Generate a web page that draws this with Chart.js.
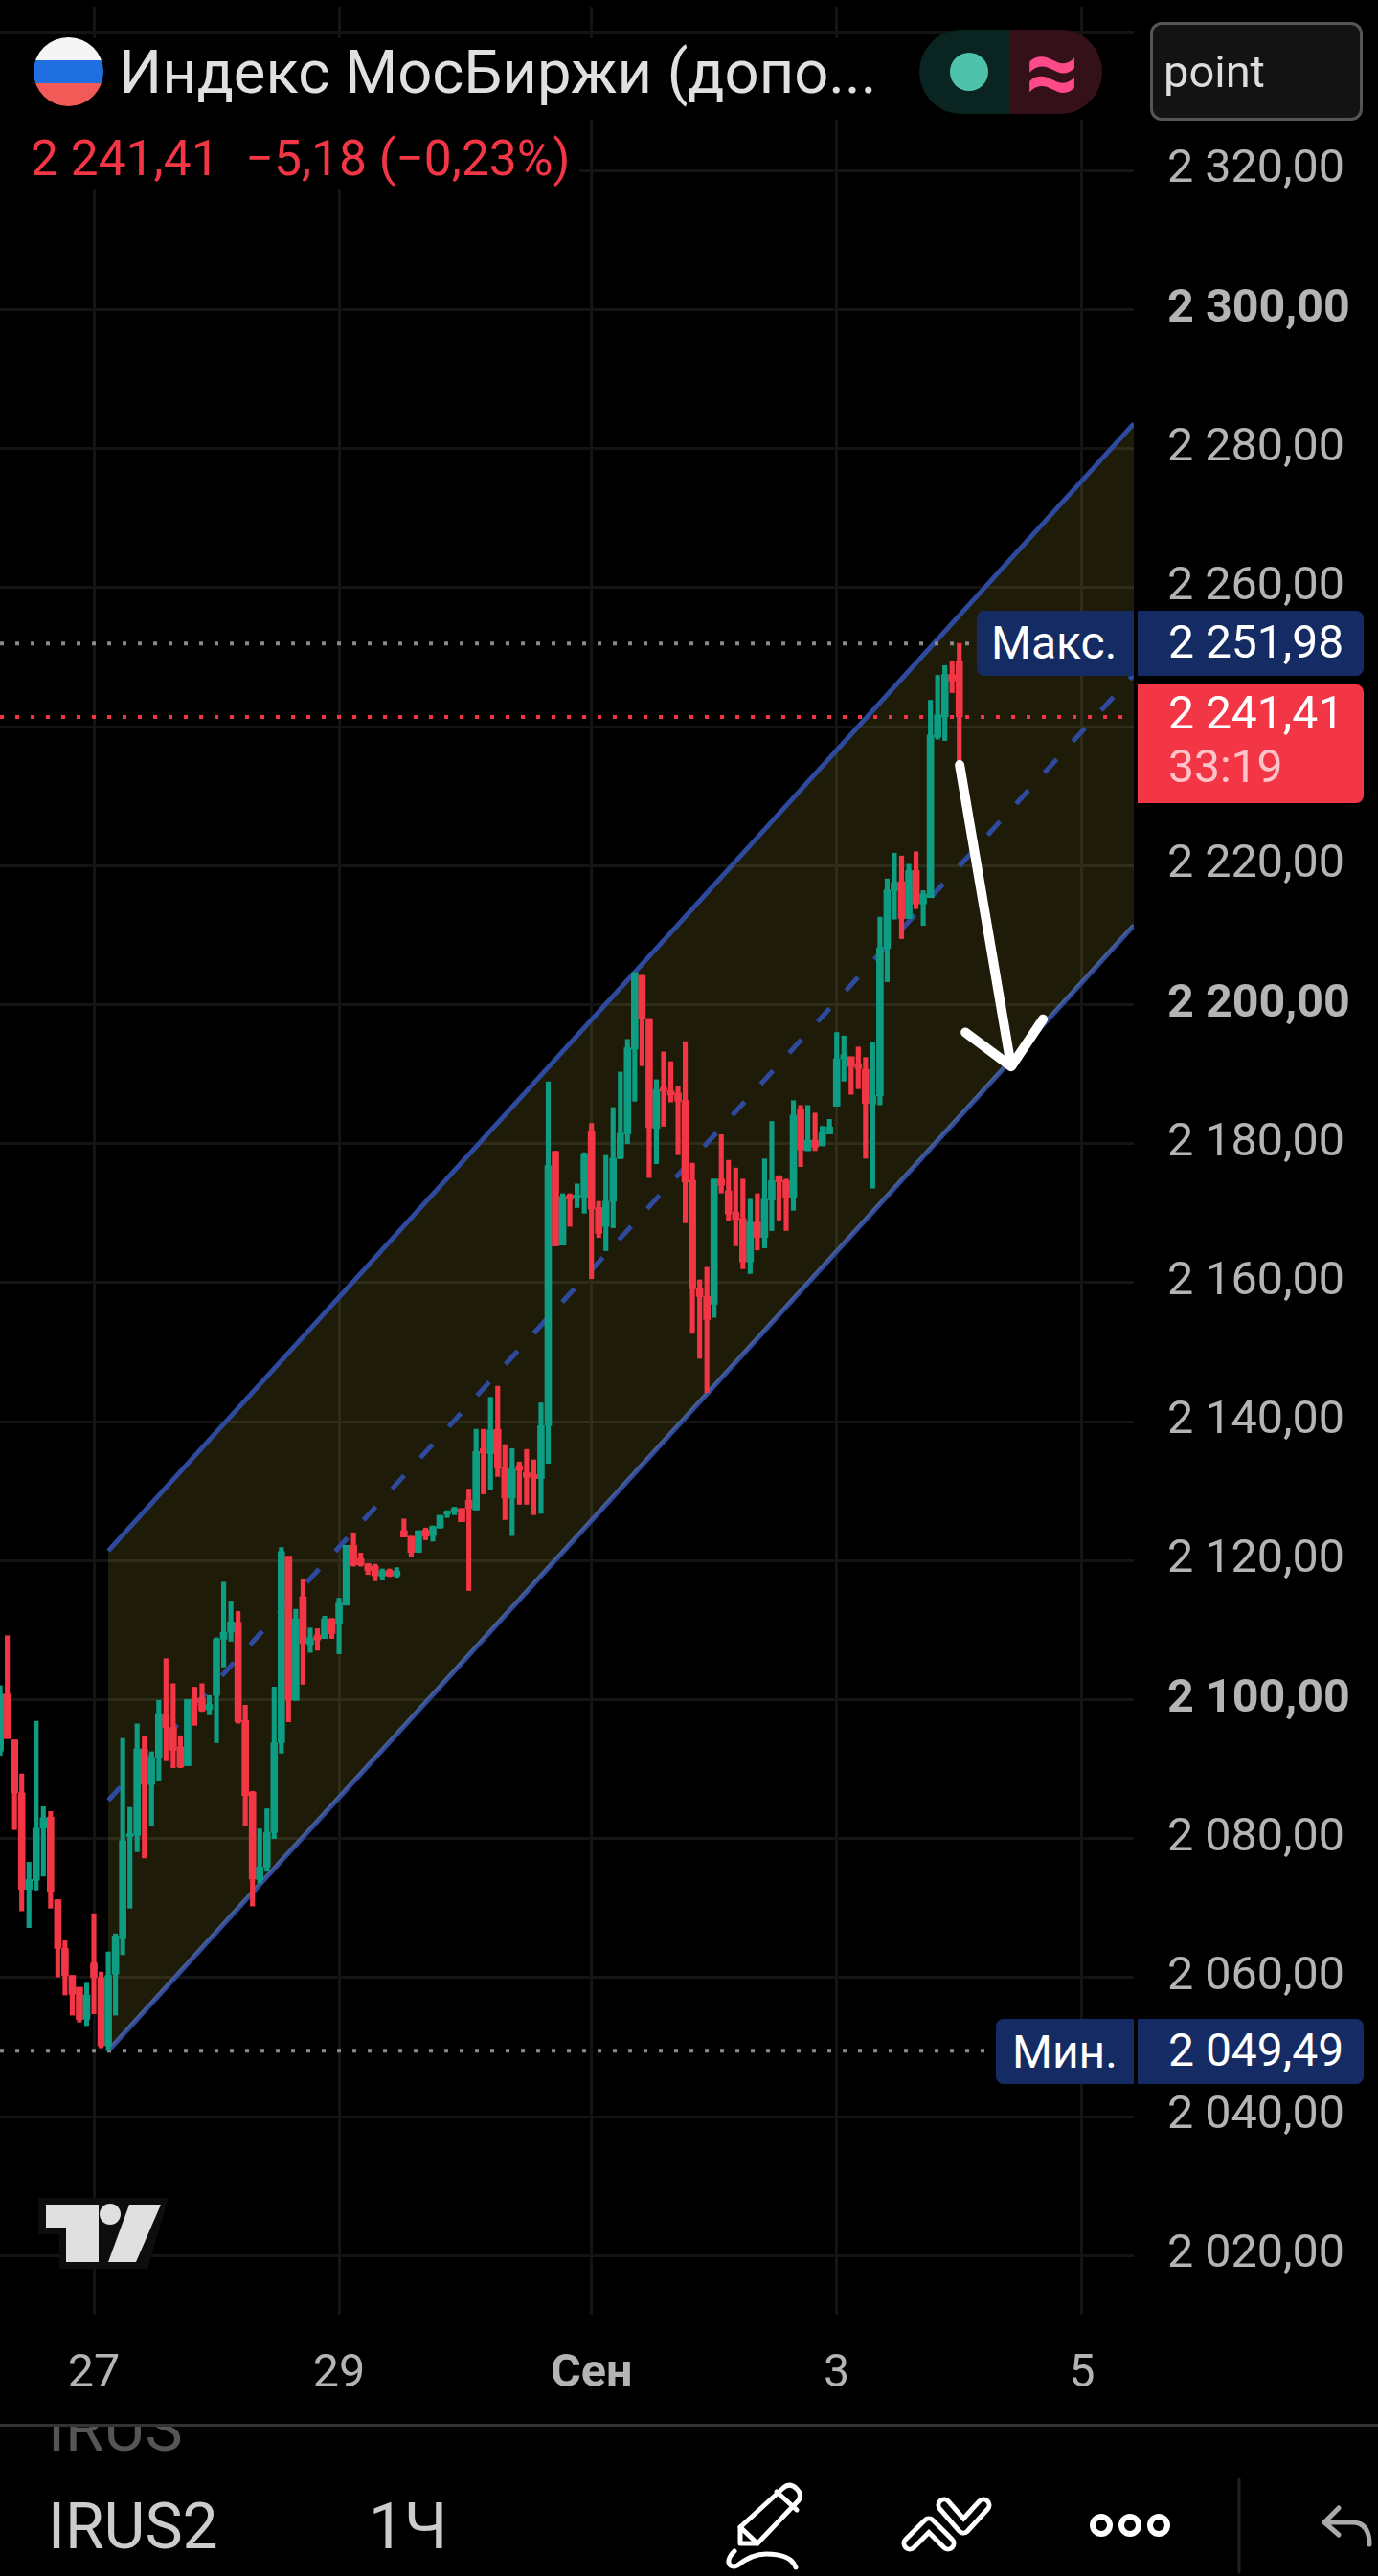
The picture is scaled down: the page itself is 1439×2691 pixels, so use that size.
<!DOCTYPE html>
<html lang="ru">
<head>
<meta charset="utf-8">
<title>Индекс МосБиржи</title>
<script src="https://cdn.jsdelivr.net/npm/chart.js@4/dist/chart.umd.min.js"></script>
<style>
  html, body { margin: 0; background: #000; }
  body { position: relative; width: 1439px; height: 2691px; overflow: hidden; font-family: Roboto, sans-serif; }
  canvas { position: absolute; left: 0; top: 0; }
  .box { position: absolute; white-space: pre; }
  .tag { background: #142c63; color: #fff; font-size: 48px; }
</style>
</head>
<body>
<canvas id="chart" width="1439" height="2691"></canvas>

<!-- header -->
<div class="box" style="left:0;top:40px;width:1184px;height:85px;background:#000"></div>
<div class="box" style="left:0;top:125px;width:605px;height:72px;background:#000"></div>
<div class="box" style="left:35px;top:39px;width:73px;height:72px;border-radius:50%;background:linear-gradient(#f5f5f5 0 33%,#1f6fe0 33% 67%,#f25a57 67%)"></div>
<div class="box" style="left:124px;top:35px;font-size:63.3px;line-height:80px;color:#e0e0e0">Индекс МосБиржи (допо...</div>
<div class="box" style="left:960px;top:31px;width:95px;height:88px;background:#0a2422;border-radius:44px 0 0 44px"></div>
<div class="box" style="left:1055px;top:31px;width:96px;height:88px;background:#341019;border-radius:0 44px 44px 0"></div>
<div class="box" style="left:992px;top:55px;width:40px;height:40px;border-radius:50%;background:#4fc3a9"></div>
<div class="box" style="left:1054px;top:31px;width:90px;height:88px;line-height:88px;text-align:center;font-size:100px;font-weight:bold;color:#ff4a8a">≈</div>
<div class="box" style="left:1201px;top:23px;width:216px;height:97px;border:3px solid #555;border-radius:12px;background:#131313"></div>
<div class="box" style="left:1215px;top:47px;font-size:47px;line-height:56px;color:#ddd">point</div>
<div class="box" style="left:32px;top:137px;font-size:51.5px;line-height:58px;color:#f23645">2 241,41<span style="margin-left:28px">−5,18 (−0,23%)</span></div>

<!-- price tags -->
<div class="box tag" style="left:1020px;top:638px;width:149px;height:68px;line-height:68px;padding-left:15px;border-radius:8px 0 0 8px">Макс.</div>
<div class="box tag" style="left:1188px;top:638px;width:204px;height:68px;line-height:66px;padding-left:32px;border-radius:0 8px 8px 0">2 251,98</div>
<div class="box" style="left:1188px;top:715px;width:236px;height:124px;background:#f23645;border-radius:0 8px 8px 0"></div>
<div class="box" style="left:1220px;top:716px;font-size:48px;line-height:58px;color:#fff">2 241,41</div>
<div class="box" style="left:1220px;top:772px;font-size:48px;line-height:58px;color:#ffc4ca">33:19</div>
<div class="box tag" style="left:1040px;top:2109px;width:127px;height:68px;line-height:70px;padding-left:17px;border-radius:8px 0 0 8px">Мин.</div>
<div class="box tag" style="left:1188px;top:2109px;width:204px;height:68px;line-height:66px;padding-left:32px;border-radius:0 8px 8px 0">2 049,49</div>

<!-- footer -->
<div class="box" style="left:0;top:2532px;width:1439px;height:3px;background:#333"></div>
<div class="box" style="left:0;top:2535px;width:400px;height:30px;overflow:hidden"><div class="box" style="left:50px;top:-30px;font-size:66px;line-height:66px;color:#555">IRUS</div></div>
<div class="box" style="left:50px;top:2603px;font-size:66px;line-height:74px;color:#ccc">IRUS2</div>
<div class="box" style="left:385px;top:2603px;font-size:66px;line-height:74px;color:#ccc">1Ч</div>

<svg class="box" style="left:0;top:0" width="1439" height="2691" viewBox="0 0 1439 2691">
  <!-- tv logo -->
  <path d="M40 2296H176L154 2370H62V2334H40Z" fill="#0d0d0d"/>
  <path d="M48 2303H103V2363H69V2327H48Z" fill="#e0e0e0"/>
  <circle cx="115" cy="2313" r="11" fill="#e0e0e0"/>
  <path d="M135 2303H168L142 2363H113Z" fill="#e0e0e0"/>
  <!-- toolbar icons -->
  <g fill="none" stroke="#fff" stroke-width="5" stroke-linejoin="round" stroke-linecap="round">
    <path d="M818 2599Q825 2593 832 2600Q838 2606 834 2612L791 2657H773V2640Z"/>
    <path d="M773 2640L791 2657M811 2603L832 2622"/>
    <path d="M767 2665Q760 2672 761 2677Q763 2683 770 2680Q785 2668 800 2668Q826 2668 831 2682"/>
    <path d="M1294 2590V2687" stroke="#222" stroke-width="3"/>
    <circle cx="1150" cy="2638" r="9" stroke-width="6"/><circle cx="1180" cy="2638" r="9" stroke-width="6"/><circle cx="1210" cy="2638" r="9" stroke-width="6"/>
    <path d="M1398 2620L1383 2635L1398 2648M1385 2635H1412Q1430 2635 1430 2658" stroke="#aaa"/>
  </g>
  <path d="M950 2657L970 2637L990 2657M986 2617L1006 2640L1027 2617" fill="none" stroke="#fff" stroke-width="17" stroke-linejoin="round" stroke-linecap="round"/>
  <path d="M950 2657L970 2637L990 2657M986 2617L1006 2640L1027 2617" fill="none" stroke="#000" stroke-width="7" stroke-linejoin="round" stroke-linecap="round"/>
</svg>

<script>
// hourly candles
const opens = [2092.6,2100.8,2094.2,2086.6,2072.7,2074,2081.5,2083.1,2071.2,2064.2,2060.3,2058.6,2054,2062.1,2060,2050.2,2060.5,2065.6,2080.3,2080.5,
  2092.9,2087.8,2091.7,2097.8,2096,2093.2,2090.5,2100.2,2100.2,2098.6,2100.6,2108.7,2109.7,2111.1,2097,2086.7,2074.1,2075.9,2080.9,2093.8,
  2120.6,2099.9,2114.8,2107.9,2109.3,2108.8,2111.6,2111,2113.6,2122.2,2120.3,2119.5,2119.2,2117.8,2118.6,2117.8,2124.3,2123.5,2121.2,2124.4,
  2123.6,2124.7,2126.7,2127,2127.5,2128.7,2127.3,2136.1,2135.4,2138.9,2133.5,2129,2133.7,2132.7,2132.4,2131.8,2139.4,2178.9,2165.4,2172.6,
  2172.2,2172.3,2181.8,2170.8,2168.1,2171.7,2177.9,2181.4,2193.6,2204.2,2198,2182.2,2188.1,2187.6,2187.3,2186.2,2174.7,2159.1,2158,2156.9,
  2174.9,2173.2,2170.1,2169.2,2163,2168.7,2166.5,2171.9,2175.3,2174.7,2172.3,2184.9,2179,2180.5,2179.7,2181.4,2185.4,2192.2,2192.5,2191.4,
  2190.7,2185.7,2186.9,2208.1,2216.4,2217.7,2212.4,2219.3,2214.5,2215.4,2238.5,2241.4,2247.5,2249.4];
const highs = [2102,2109.2,2094.2,2089.3,2076.6,2096.9,2084.6,2083.9,2071.2,2065.3,2060.3,2058.6,2059.2,2069.2,2060.8,2063.7,2066.3,2094.4,2084.5,2096.5,
  2094.8,2092.5,2099.9,2105.9,2102.3,2094.8,2100,2101.8,2102.3,2100.6,2108.9,2116.9,2114.2,2112.7,2099.2,2086.8,2081.4,2084.3,2101.8,2121.9,
  2120.6,2113,2117.3,2110.3,2110.2,2112,2111.7,2114.6,2122.2,2124,2121.1,2119.6,2119.5,2118.8,2118.8,2119,2126,2123.5,2124.3,2124.7,
  2125,2126.5,2127.2,2127.7,2127.5,2130.3,2138.9,2138.9,2143.5,2145.1,2136.7,2136.1,2134.2,2136,2134.5,2142.7,2188.9,2178.9,2172.8,2172.8,
  2174.2,2178.7,2182.9,2171.7,2178.3,2185.2,2190.3,2195,2204.6,2204.2,2198,2189.2,2193.2,2191.8,2188.3,2194.7,2177.2,2160.4,2162.2,2174.9,
  2181.3,2177.6,2176.5,2174.9,2172,2172.8,2177.8,2183.2,2175.4,2174.9,2186.2,2185.5,2185.5,2184.4,2182.5,2183.5,2196,2195.5,2192.5,2193.9,
  2192.4,2194.6,2212.6,2218.1,2221.8,2221.4,2220.2,2222,2216.4,2243.8,2247.4,2248.8,2249.4,2251.98];
const lows = [2092,2094.4,2081.3,2069.6,2067.2,2072.6,2074.6,2070,2060.1,2057.5,2054.6,2053.6,2053.1,2054.8,2049.9,2049.49,2054.6,2063.3,2070,2078.1,
  2077.2,2081.9,2088.3,2091.2,2090.2,2090.2,2090.5,2096.3,2098.3,2097.8,2093.8,2104.7,2108.4,2096.6,2081.9,2070.3,2073.6,2075.3,2080,2092.3,
  2096.8,2099.9,2102.2,2106.8,2107.1,2108.8,2108.8,2106.6,2113.6,2119.2,2119.2,2118,2117.1,2117.2,2117.7,2117.6,2123.4,2120.5,2121.2,2123,
  2122.8,2124.7,2126.2,2126.6,2125.6,2115.7,2127.3,2129.6,2130.2,2132.1,2125.9,2123.6,2128.1,2128.1,2126.6,2126.8,2134,2165.3,2165.4,2168.1,
  2170.8,2170,2160.6,2166.5,2164.6,2167.9,2177.8,2180,2186.1,2191.2,2175.1,2177.1,2182.5,2186,2178.4,2168.6,2152.7,2149.1,2144.2,2155,
  2172.9,2168.9,2165.3,2162,2161.3,2164.7,2165,2167.5,2169,2167.5,2170.4,2176.7,2179,2179,2179.7,2181.4,2185.4,2189,2187.1,2187.9,
  2177.9,2173.6,2185.6,2203.3,2212.3,2209.5,2212.4,2213.8,2211.4,2215.4,2238.2,2238,2244.9,2234.5];
const closes = [2100.8,2094.4,2086.6,2072.7,2074.1,2081.5,2083,2072.4,2064.2,2060.3,2057.6,2054,2057.5,2060,2050.2,2060.3,2066,2079.7,2080.7,2092.9,
  2087.8,2091.7,2098,2096,2092.7,2090.3,2100,2099.7,2098.4,2099.3,2108.7,2109.7,2111.2,2096.8,2086.2,2074.2,2075.9,2080.9,2093.8,2121.3,
  2099.9,2111.6,2108.1,2108.9,2108.6,2111.6,2109.5,2113.9,2122.2,2119.4,2119.4,2118.6,2117.8,2118.5,2117.8,2118.5,2123.4,2121.2,2124.3,2123.5,
  2124.9,2126.5,2127.1,2127.5,2125.6,2127.5,2135.7,2135.5,2138.8,2133.3,2129,2133.2,2133,2132,2131.8,2139.4,2176.8,2165.3,2172.4,2172,
  2172.6,2178.5,2170.6,2167.1,2171.7,2177.9,2181.5,2193.8,2204.6,2197.9,2182.3,2187.8,2187.6,2187,2186.1,2174.5,2159.1,2158,2154.7,2174.9,
  2174,2169.9,2169.1,2163,2168.7,2166.5,2172,2174.7,2174.5,2172.3,2184.1,2179.1,2180.5,2179.5,2181.6,2182.4,2192.2,2192.8,2191.1,2190.8,
  2185.8,2186.9,2208.2,2216.5,2217.6,2212.4,2219.3,2214.5,2215.9,2238.8,2241.7,2247.5,2246.6,2241.41];

// channel, in candle index / price
const channelX = [15, 157.2];
const channelUpper = [2121.4, 2283.6];
const channelMiddle = [2085.5, 2247.5];
const channelLower = [2049.49, 2211.4];

const maxPrice = 2251.98;
const minPrice = 2049.49;
const lastPrice = 2241.41;

// hand drawn arrow
const arrowX = [133.05, 140.2, 133.85, 140.2, 144.6];
const arrowY = [2234.5, 2191.1, 2196, 2191.1, 2197.9];

const priceTicks = [2340,2320,2300,2280,2260,2240,2220,2200,2180,2160,2140,2120,2100,2080,2060,2040,2020];
const boldPrices = [2300, 2200, 2100];
const dateTicks = [13, 47, 82, 116, 150];
const dateLabels = ['27', '29', 'Сен', '3', '5'];

const GREEN = '#0e9c82';
const RED = '#f23645';
const BLUE = '#2e4a9e';

function fmt(v) {
  if (v === 2340) return '';
  const s = String(v);
  return s[0] + ' ' + s.slice(1) + ',00';
}
function barColor(i) {
  return closes[i] >= opens[i] ? GREEN : RED;
}
function hline(y, x1, x2, color) {
  return {
    type: 'line', data: [{x: x1, y: y}, {x: x2, y: y}], borderColor: color, borderWidth: 4,
    borderDash: [4, 12], pointRadius: 0, order: 5
  };
}

const wicks = highs.map((h, i) => ({x: i, y: [lows[i], h]}));
const bodies = opens.map((o, i) => ({x: i, y: [o, closes[i]]}));

new Chart(document.getElementById('chart'), {
  type: 'bar',
  data: {
    datasets: [
      { // 0: upper channel line, filled down to dataset 1
        type: 'line',
        data: channelX.map((x, i) => ({x: x, y: channelUpper[i]})),
        borderColor: BLUE, borderWidth: 5, pointRadius: 0, order: 8,
        fill: {target: 1, above: 'rgba(245,230,70,0.12)', below: 'rgba(245,230,70,0.12)'}
      },
      { // 1
        type: 'line',
        data: channelX.map((x, i) => ({x: x, y: channelLower[i]})),
        borderColor: BLUE, borderWidth: 5, pointRadius: 0, order: 8
      },
      {
        type: 'line',
        data: channelX.map((x, i) => ({x: x, y: channelMiddle[i]})),
        borderColor: BLUE, borderWidth: 5, borderDash: [19, 25], pointRadius: 0, order: 7
      },
      hline(maxPrice, -0.01, 135, '#8a8a8a'),
      hline(minPrice, -0.01, 136.5, '#8a8a8a'),
      hline(lastPrice, -0.01, 157.2, RED),
      {
        data: wicks, grouped: false, barThickness: 4.5, borderSkipped: false, order: 3,
        backgroundColor: ctx => barColor(ctx.dataIndex)
      },
      {
        data: bodies, grouped: false, barThickness: 7, borderSkipped: false, order: 2,
        backgroundColor: ctx => barColor(ctx.dataIndex)
      },
      {
        type: 'line',
        data: arrowX.map((x, i) => ({x: x, y: arrowY[i]})),
        borderColor: '#fff', borderWidth: 10, pointRadius: 0, order: 1,
        borderCapStyle: 'round', borderJoinStyle: 'round'
      }
    ]
  },
  options: {
    responsive: false,
    animation: false,
    devicePixelRatio: 1,
    layout: {padding: {top: 7, left: 0, right: 0, bottom: 0}},
    plugins: {legend: {display: false}, tooltip: {enabled: false}},
    scales: {
      x: {
        type: 'linear', min: -0.015, max: 157.2, offset: false,
        grid: {color: '#141414', lineWidth: 3, drawTicks: false, offset: false},
        border: {display: false},
        afterBuildTicks: s => { s.ticks = dateTicks.map(v => ({value: v})); },
        afterFit: s => { s.height = 273; s.paddingLeft = 0; s.paddingRight = 0; },
        ticks: {
          padding: 34, maxRotation: 0, autoSkip: false, color: '#b4b4b4',
          callback: v => dateLabels[dateTicks.indexOf(v)],
          font: ctx => ({family: 'Roboto', size: 48.5, weight: ctx.tick && ctx.tick.value === 82 ? 'bold' : 'normal'})
        }
      },
      y: {
        type: 'linear', position: 'right', min: 2011.5, max: 2343.6,
        grid: {color: '#141414', lineWidth: 3, drawTicks: false},
        border: {display: false},
        afterBuildTicks: s => { s.ticks = priceTicks.map(v => ({value: v})); },
        afterFit: s => { s.width = 255; s.paddingTop = 0; s.paddingBottom = 0; },
        ticks: {
          padding: 35, autoSkip: false, color: '#b4b4b4',
          callback: v => fmt(v),
          font: ctx => ({family: 'Roboto', size: 48.5, weight: ctx.tick && boldPrices.includes(ctx.tick.value) ? 'bold' : 'normal'})
        }
      }
    }
  }
});
</script>
</body>
</html>
